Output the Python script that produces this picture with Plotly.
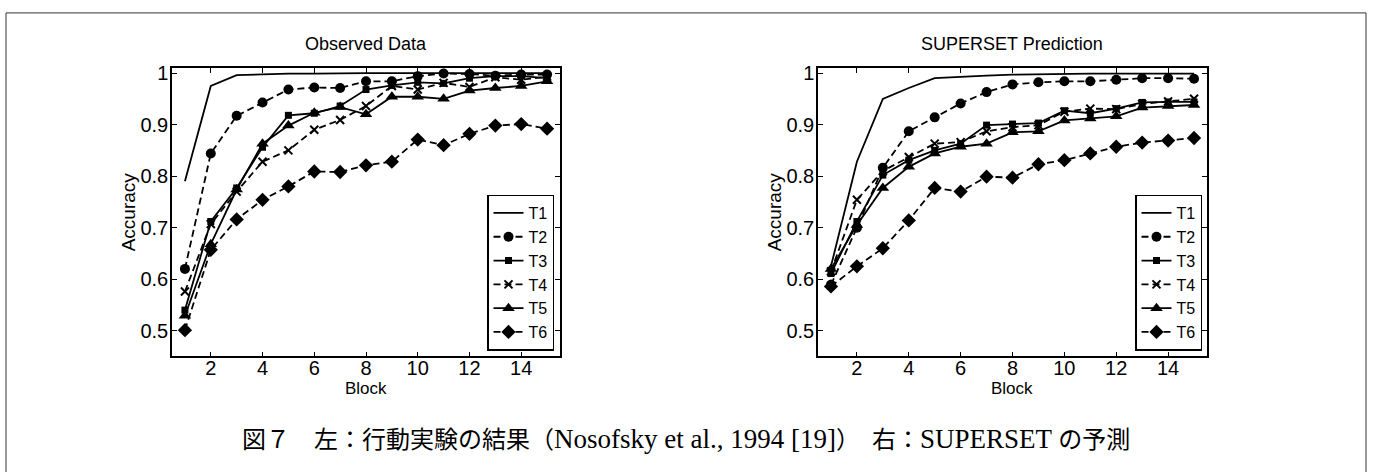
import plotly.graph_objects as go

blocks = list(range(1, 16))
series_names = ["T1", "T2", "T3", "T4", "T5", "T6"]

# Observed data (left panel)
obs_t1 = [0.790, 0.975, 0.996, 0.998, 0.999, 0.999, 1.000, 1.000, 1.000, 1.000, 1.000, 1.000, 1.000, 1.000, 1.000]
obs_t2 = [0.620, 0.844, 0.917, 0.943, 0.968, 0.972, 0.971, 0.984, 0.984, 0.994, 0.999, 0.998, 0.995, 0.997, 0.997]
obs_t3 = [0.540, 0.712, 0.777, 0.856, 0.918, 0.922, 0.936, 0.968, 0.976, 0.982, 0.980, 0.990, 0.994, 0.994, 0.990]
obs_t4 = [0.576, 0.707, 0.770, 0.828, 0.850, 0.890, 0.909, 0.936, 0.975, 0.968, 0.981, 0.973, 0.992, 0.987, 0.993]
obs_t5 = [0.529, 0.668, 0.774, 0.863, 0.898, 0.923, 0.934, 0.920, 0.954, 0.954, 0.950, 0.966, 0.971, 0.975, 0.984]
obs_t6 = [0.501, 0.657, 0.716, 0.754, 0.780, 0.809, 0.808, 0.821, 0.828, 0.871, 0.860, 0.882, 0.898, 0.901, 0.892]

# SUPERSET prediction (right panel)
pred_t1 = [0.625, 0.828, 0.950, 0.971, 0.990, 0.993, 0.995, 0.997, 0.998, 0.998, 0.999, 0.999, 0.999, 0.999, 0.999]
pred_t2 = [0.589, 0.700, 0.816, 0.887, 0.914, 0.941, 0.963, 0.978, 0.982, 0.984, 0.984, 0.987, 0.990, 0.990, 0.989]
pred_t3 = [0.611, 0.712, 0.802, 0.831, 0.850, 0.863, 0.899, 0.901, 0.903, 0.927, 0.922, 0.931, 0.943, 0.944, 0.944]
pred_t4 = [0.615, 0.754, 0.810, 0.837, 0.863, 0.866, 0.887, 0.895, 0.899, 0.925, 0.931, 0.930, 0.940, 0.945, 0.950]
pred_t5 = [0.620, 0.705, 0.777, 0.818, 0.844, 0.857, 0.863, 0.885, 0.887, 0.908, 0.912, 0.916, 0.933, 0.936, 0.938]
pred_t6 = [0.586, 0.625, 0.660, 0.714, 0.777, 0.770, 0.799, 0.797, 0.823, 0.831, 0.844, 0.857, 0.865, 0.869, 0.874]

x_ticks = [2, 4, 6, 8, 10, 12, 14]
y_ticks = [0.5, 0.6, 0.7, 0.8, 0.9, 1.0]
y_tick_labels = ["0.5", "0.6", "0.7", "0.8", "0.9", "1"]

left_title = "Observed Data"
right_title = "SUPERSET Prediction"
x_label = "Block"
y_label = "Accuracy"
caption_parts = [
    ("jp", "図７　左："),
    ("jp", "行動実験の結果（"),
    ("en", "Nosofsky et al., 1994 [19]"),
    ("jp", "）　右："),
    ("en", "SUPERSET "),
    ("jp", "の予測"),
]

SANS = "Liberation Sans, Arial, sans-serif"
DASH = "7px,4px"
styles = [
    dict(mode="lines", dash="solid", marker=None),
    dict(mode="lines+markers", dash=DASH, marker=dict(symbol="circle", size=10)),
    dict(mode="lines+markers", dash="solid", marker=dict(symbol="square", size=7)),
    dict(mode="lines+markers", dash=DASH, marker=dict(symbol="x-thin", size=8, line=dict(width=2, color="black"))),
    dict(mode="lines+markers", dash="solid", marker=dict(symbol="triangle-up", size=11)),
    dict(mode="lines+markers", dash=DASH, marker=dict(symbol="diamond", size=11)),
]

fig = go.Figure()

panels = [
    ([obs_t1, obs_t2, obs_t3, obs_t4, obs_t5, obs_t6], "x", "y", "legend"),
    ([pred_t1, pred_t2, pred_t3, pred_t4, pred_t5, pred_t6], "x2", "y2", "legend2"),
]
for data, xa, ya, lg in panels:
    for name, vals, st in zip(series_names, data, styles):
        kw = dict(x=blocks, y=vals, name=name, mode=st["mode"], xaxis=xa, yaxis=ya, legend=lg,
                  line=dict(color="black", width=1.8, dash=st["dash"]), cliponaxis=False)
        if st["marker"] is not None:
            m = dict(color="black")
            m.update(st["marker"])
            kw["marker"] = m
        fig.add_trace(go.Scatter(**kw))

W, H = 1374, 472
def px_x(p):
    return p / W
def px_y(p):
    return 1 - p / H

ax_common = dict(showline=True, linecolor="black", linewidth=1.5, mirror="ticks",
                 ticks="inside", ticklen=5, tickwidth=1, tickcolor="black",
                 showgrid=False, zeroline=False,
                 tickfont=dict(family=SANS, size=20, color="black"))
xa_extra = dict(ticklabelstandoff=-7)
ya_extra = dict(ticklabelstandoff=-2)

legend_common = dict(xanchor="right", yanchor="bottom",
                     bgcolor="white", bordercolor="black", borderwidth=1.5,
                     font=dict(family=SANS, size=16, color="black"), tracegroupgap=0,
                     itemwidth=30)

fig.update_layout(
    width=W, height=H,
    margin=dict(l=0, r=0, t=0, b=0),
    paper_bgcolor="white", plot_bgcolor="white",
    font=dict(family=SANS, color="black"),
    xaxis=dict(domain=[px_x(172), px_x(560)], range=[0.5, 15.5], tickvals=x_ticks, anchor="y", **ax_common, **xa_extra),
    yaxis=dict(domain=[px_y(355), px_y(62.7)], range=[0.45, 1.01], tickvals=y_ticks, ticktext=y_tick_labels, anchor="x", **ax_common, **ya_extra),
    xaxis2=dict(domain=[px_x(818), px_x(1207)], range=[0.5, 15.5], tickvals=x_ticks, anchor="y2", **ax_common, **xa_extra),
    yaxis2=dict(domain=[px_y(355), px_y(62.7)], range=[0.45, 1.01], tickvals=y_ticks, ticktext=y_tick_labels, anchor="x2", **ax_common, **ya_extra),
    legend=dict(x=px_x(554), y=px_y(349), **legend_common),
    legend2=dict(x=px_x(1202), y=px_y(349), **legend_common),
    showlegend=True,
)

caption_html = ""
for kind, txt in caption_parts:
    if kind == "jp":
        caption_html += '<span style="font-family:Noto Sans CJK JP;font-size:24px">' + txt + "</span>"
    else:
        caption_html += '<span style="font-family:Liberation Serif;font-size:27px">' + txt + "</span>"

annotations = [
    dict(text=left_title, x=px_x(366), y=px_y(38), font=dict(size=18)),
    dict(text=right_title, x=px_x(1012), y=px_y(38), font=dict(size=18)),
    dict(text=x_label, x=px_x(366), y=px_y(387), font=dict(size=17)),
    dict(text=x_label, x=px_x(1012), y=px_y(387), font=dict(size=17)),
    dict(text=y_label, x=px_x(128), y=px_y(209), textangle=-90, font=dict(size=19)),
    dict(text=y_label, x=px_x(774), y=px_y(209), textangle=-90, font=dict(size=19)),
    dict(text=caption_html, x=px_x(686), y=px_y(437),
         font=dict(size=24, family="Liberation Serif, Noto Sans CJK JP, serif")),
]
for a in annotations:
    a.update(xref="paper", yref="paper", showarrow=False, xanchor="center", yanchor="middle")
    if "family" not in a["font"]:
        a["font"]["family"] = SANS
    a["font"]["color"] = "black"
fig.update_layout(annotations=annotations)

fig.add_shape(type="rect", xref="paper", yref="paper",
              x0=px_x(6), x1=px_x(1366), y0=px_y(7), y1=px_y(480),
              line=dict(color="#333333", width=1), fillcolor="rgba(0,0,0,0)", layer="below")

fig.write_html("out.html", config={"displayModeBar": False},
               post_script="document.body.style.margin='0';document.body.style.overflow='hidden';")
